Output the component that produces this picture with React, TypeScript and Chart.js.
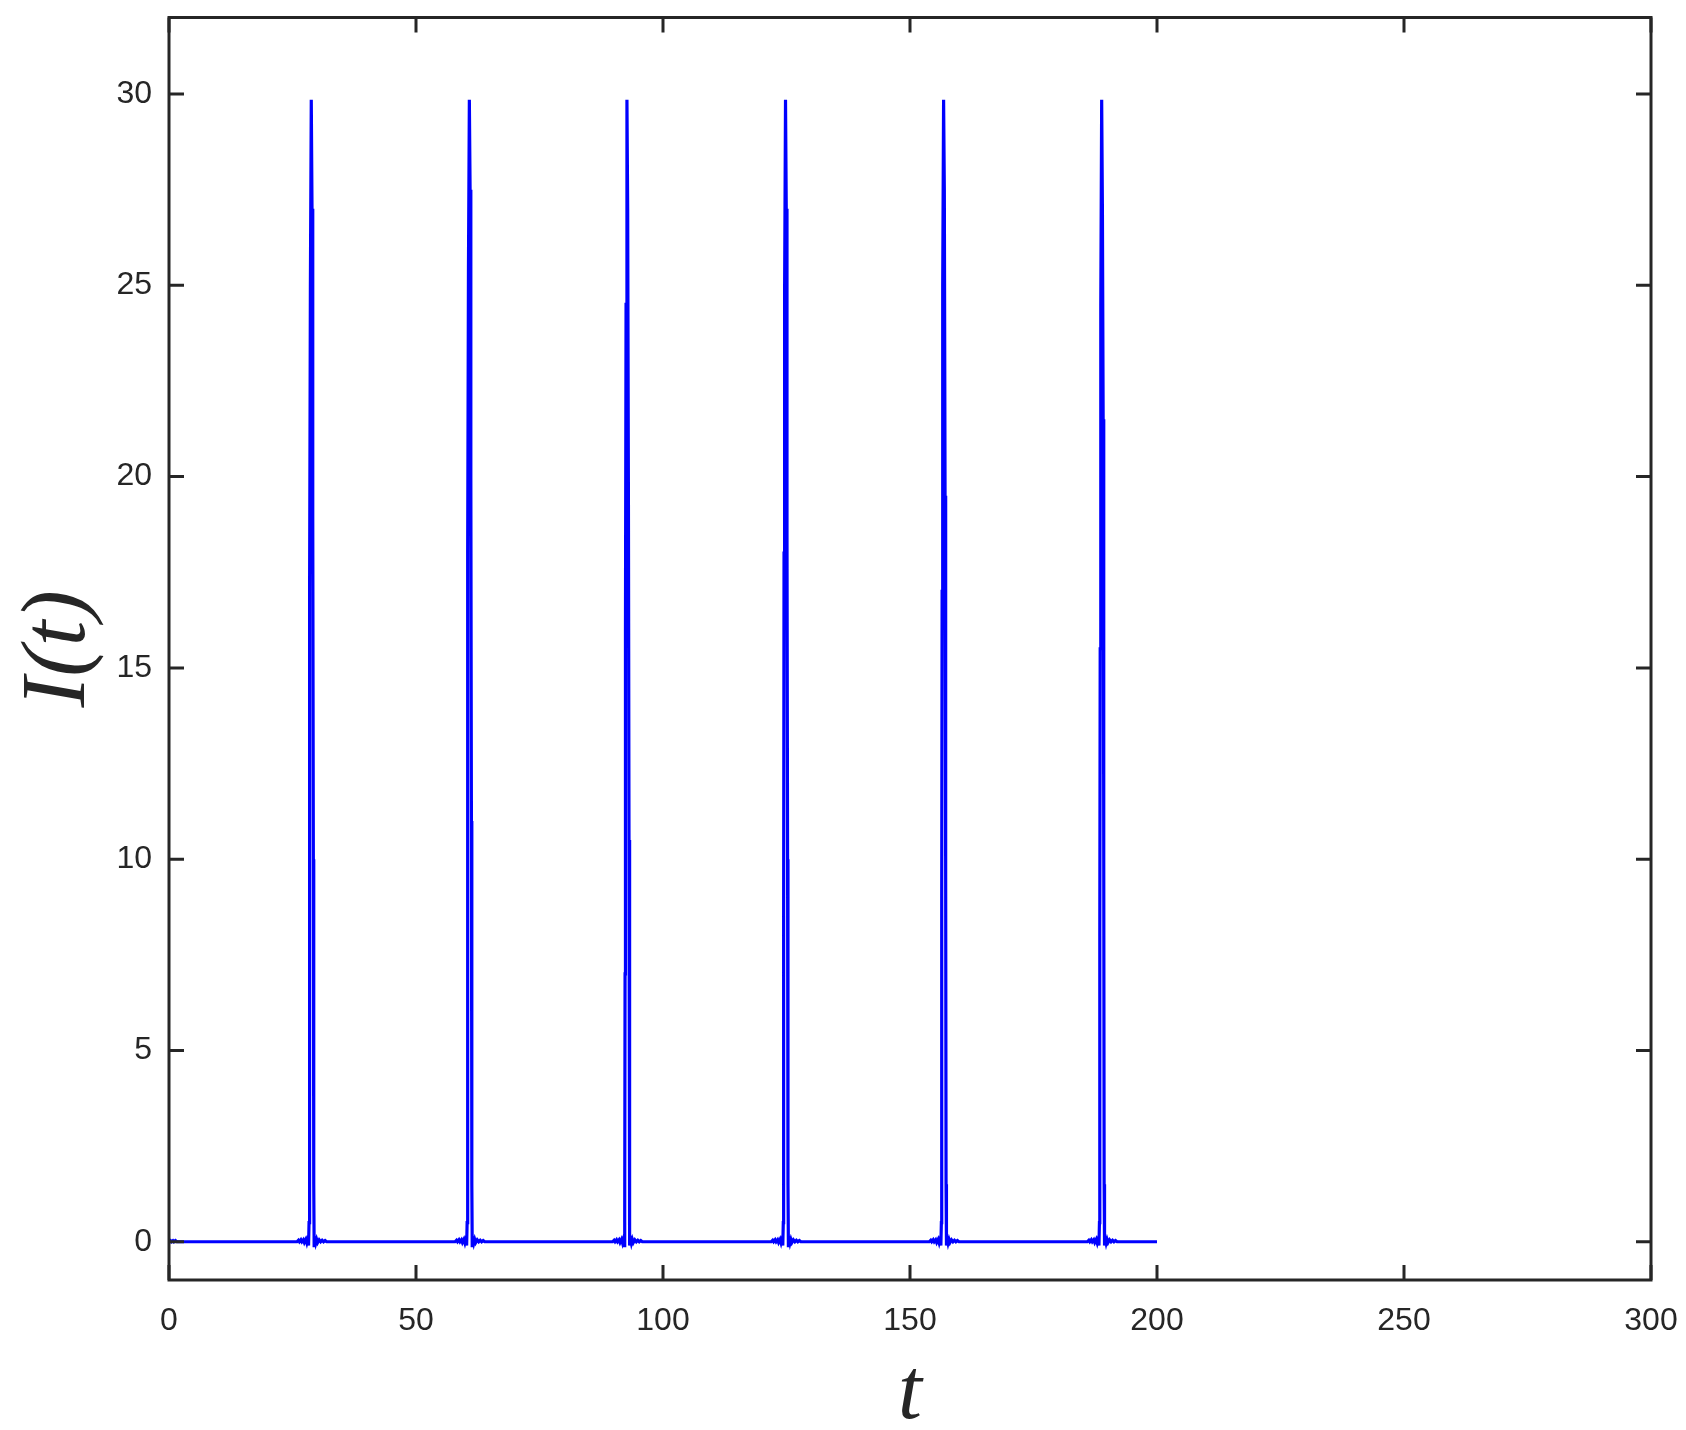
import React, { useEffect, useRef } from 'react';
import { Chart, registerables } from 'chart.js';

Chart.register(...registerables);

// ---- data ----
const xTickValues = [0, 50, 100, 150, 200, 250, 300];
const yTickValues = [0, 5, 10, 15, 20, 25, 30];
const xMin = 0;
const xMax = 300;
const yMin = -1;
const yMax = 32;
const xTitle = 't';
const yTitle = 'I(t)';

const baselineStart: [number, number][] = [
  [0, 0], [0.3, 0.03], [0.5, 0], [0.8, 0.03], [1.0, 0], [1.3, 0.03], [1.6, 0], [2.0, 0],
];

const spike1: [number, number][] = [
  [25.9, 0], [26.2, 0.04], [26.4, 0], [26.7, 0.05], [26.9, 0], [27.2, 0.05], [27.4, -0.02],
  [27.7, 0.06], [27.9, -0.03], [28.1, 0.07], [28.25, -0.1], [28.35, 0.5], [28.42, 8],
  [28.5, 17], [28.62, 25], [28.8, 29.85], [28.95, 27], [29.1, 19], [29.22, 10], [29.3, 1.5],
  [29.38, -0.1], [29.5, 0.08], [29.7, -0.04], [29.9, 0.06], [30.1, -0.02], [30.4, 0.05],
  [30.7, 0], [31.0, 0.04], [31.3, 0], [31.6, 0.03], [31.9, 0],
];

const spike2: [number, number][] = [
  [57.9, 0], [58.2, 0.04], [58.4, 0], [58.7, 0.05], [58.9, 0], [59.2, 0.05], [59.4, -0.02],
  [59.7, 0.06], [59.9, -0.03], [60.1, 0.07], [60.25, -0.1], [60.35, 0.5], [60.42, 9],
  [60.5, 18], [60.62, 25.5], [60.8, 29.85], [60.95, 27.5], [61.1, 20], [61.22, 11], [61.3, 1.5],
  [61.38, -0.1], [61.5, 0.08], [61.7, -0.04], [61.9, 0.06], [62.1, -0.02], [62.4, 0.05],
  [62.7, 0], [63.0, 0.04], [63.3, 0], [63.6, 0.03], [63.9, 0],
];

const spike3: [number, number][] = [
  [89.8, 0], [90.1, 0.04], [90.3, 0], [90.6, 0.05], [90.8, 0], [91.1, 0.05], [91.3, -0.02],
  [91.6, 0.06], [91.8, -0.03], [92.0, 0.07], [92.15, -0.1], [92.25, 0.5], [92.32, 7],
  [92.4, 16], [92.52, 24.5], [92.7, 29.85], [92.85, 27], [93.0, 19.5], [93.12, 10.5], [93.2, 1.5],
  [93.28, -0.1], [93.4, 0.08], [93.6, -0.04], [93.8, 0.06], [94.0, -0.02], [94.3, 0.05],
  [94.6, 0], [94.9, 0.04], [95.2, 0], [95.5, 0.03], [95.8, 0],
];

const spike4: [number, number][] = [
  [121.9, 0], [122.2, 0.04], [122.4, 0], [122.7, 0.05], [122.9, 0], [123.2, 0.05], [123.4, -0.02],
  [123.7, 0.06], [123.9, -0.03], [124.1, 0.07], [124.25, -0.1], [124.35, 0.5], [124.42, 8.5],
  [124.5, 18], [124.62, 25], [124.8, 29.85], [124.95, 27], [125.1, 18.5], [125.22, 10], [125.3, 1.5],
  [125.38, -0.1], [125.5, 0.08], [125.7, -0.04], [125.9, 0.06], [126.1, -0.02], [126.4, 0.05],
  [126.7, 0], [127.0, 0.04], [127.3, 0], [127.6, 0.03], [127.9, 0],
];

const spike5: [number, number][] = [
  [153.9, 0], [154.2, 0.04], [154.4, 0], [154.7, 0.05], [154.9, 0], [155.2, 0.05], [155.4, -0.02],
  [155.7, 0.06], [155.9, -0.03], [156.1, 0.07], [156.25, -0.1], [156.35, 0.5], [156.42, 9],
  [156.5, 17], [156.62, 25], [156.8, 29.85], [156.95, 27.5], [157.1, 19.5], [157.22, 9.5], [157.3, 1.5],
  [157.38, -0.1], [157.5, 0.08], [157.7, -0.04], [157.9, 0.06], [158.1, -0.02], [158.4, 0.05],
  [158.7, 0], [159.0, 0.04], [159.3, 0], [159.6, 0.03], [159.9, 0],
];

const spike6: [number, number][] = [
  [185.9, 0], [186.2, 0.04], [186.4, 0], [186.7, 0.05], [186.9, 0], [187.2, 0.05], [187.4, -0.02],
  [187.7, 0.06], [187.9, -0.03], [188.1, 0.07], [188.25, -0.1], [188.35, 0.5], [188.42, 8],
  [188.5, 15.5], [188.62, 24.5], [188.8, 29.85], [188.95, 27], [189.1, 21.5], [189.22, 10], [189.3, 1.5],
  [189.38, -0.1], [189.5, 0.08], [189.7, -0.04], [189.9, 0.06], [190.1, -0.02], [190.4, 0.05],
  [190.7, 0], [191.0, 0.04], [191.3, 0], [191.6, 0.03], [191.9, 0],
];

const baselineEnd: [number, number][] = [[200, 0]];

const AXIS_COLOR = '#262626';
const LINE_COLOR = '#0000ff';
const TICK_FONT = '"Liberation Sans", Arial, Helvetica, sans-serif';
const TITLE_FONT = '"Liberation Serif", "Times New Roman", serif';

const framePlugin = {
  id: 'matlabFrame',
  afterDatasetsDraw(chart: any) {
    const { ctx, chartArea, scales } = chart;
    const { left, right, top, bottom } = chartArea;
    const xs = scales.x;
    const ys = scales.y;
    const tl = 15;
    ctx.save();
    ctx.strokeStyle = AXIS_COLOR;
    ctx.lineWidth = 3;
    ctx.lineCap = 'butt';
    ctx.beginPath();
    for (const v of xTickValues) {
      const px = xs.getPixelForValue(v);
      ctx.moveTo(px, bottom);
      ctx.lineTo(px, bottom - tl);
      ctx.moveTo(px, top);
      ctx.lineTo(px, top + tl);
    }
    for (const v of yTickValues) {
      const py = ys.getPixelForValue(v);
      ctx.moveTo(left, py);
      ctx.lineTo(left + tl, py);
      ctx.moveTo(right, py);
      ctx.lineTo(right - tl, py);
    }
    ctx.stroke();
    ctx.lineJoin = 'miter';
    ctx.strokeRect(left, top, right - left, bottom - top);
    ctx.restore();
  },
};

export default function App() {
  const canvasRef = useRef<HTMLCanvasElement | null>(null);

  useEffect(() => {
    document.body.style.margin = '0';
    const canvas = canvasRef.current;
    if (!canvas) return;
    const points = [
      ...baselineStart, ...spike1, ...spike2, ...spike3, ...spike4, ...spike5, ...spike6, ...baselineEnd,
    ].map(([x, y]) => ({ x, y }));

    const chart = new Chart(canvas, {
      type: 'line',
      data: {
        datasets: [
          {
            data: points,
            borderColor: LINE_COLOR,
            borderWidth: 3.2,
            pointRadius: 0,
            tension: 0,
            fill: false,
          },
        ],
      },
      options: {
        animation: false,
        responsive: false,
        devicePixelRatio: 1,
        layout: { padding: { top: 17.5, right: 35, left: 0, bottom: 0 } },
        plugins: {
          legend: { display: false },
          tooltip: { enabled: false },
        },
        scales: {
          x: {
            type: 'linear',
            min: xMin,
            max: xMax,
            border: { display: false },
            grid: { display: false, drawTicks: false },
            afterBuildTicks: (scale: any) => {
              scale.ticks = xTickValues.map((v) => ({ value: v }));
            },
            afterFit: (scale: any) => {
              scale.height = 150;
              scale.paddingLeft = 0;
              scale.paddingRight = 0;
            },
            ticks: {
              autoSkip: false,
              maxRotation: 0,
              padding: 22,
              color: AXIS_COLOR,
              font: { family: TICK_FONT, size: 32 },
            },
            title: {
              display: true,
              text: xTitle,
              color: AXIS_COLOR,
              padding: { top: 0, bottom: 0 },
              font: { family: TITLE_FONT, size: 86, style: 'italic', lineHeight: 0.8 },
            },
          },
          y: {
            type: 'linear',
            min: yMin,
            max: yMax,
            border: { display: false },
            grid: { display: false, drawTicks: false },
            afterBuildTicks: (scale: any) => {
              scale.ticks = yTickValues.map((v) => ({ value: v }));
            },
            afterFit: (scale: any) => {
              scale.width = 169;
              scale.paddingTop = 0;
              scale.paddingBottom = 0;
            },
            ticks: {
              autoSkip: false,
              padding: 17,
              color: AXIS_COLOR,
              font: { family: TICK_FONT, size: 32 },
            },
            title: {
              display: true,
              text: yTitle,
              color: AXIS_COLOR,
              padding: { top: 14, bottom: 0 },
              font: { family: TITLE_FONT, size: 92, style: 'italic', lineHeight: 1 },
            },
          },
        },
      },
      plugins: [framePlugin],
    });
    return () => chart.destroy();
  }, []);

  return (
    <div style={{ position: 'absolute', left: 0, top: 0, width: 1686, height: 1430, background: '#fff' }}>
      <canvas ref={canvasRef} width={1686} height={1430} style={{ display: 'block', width: 1686, height: 1430 }} />
    </div>
  );
}
